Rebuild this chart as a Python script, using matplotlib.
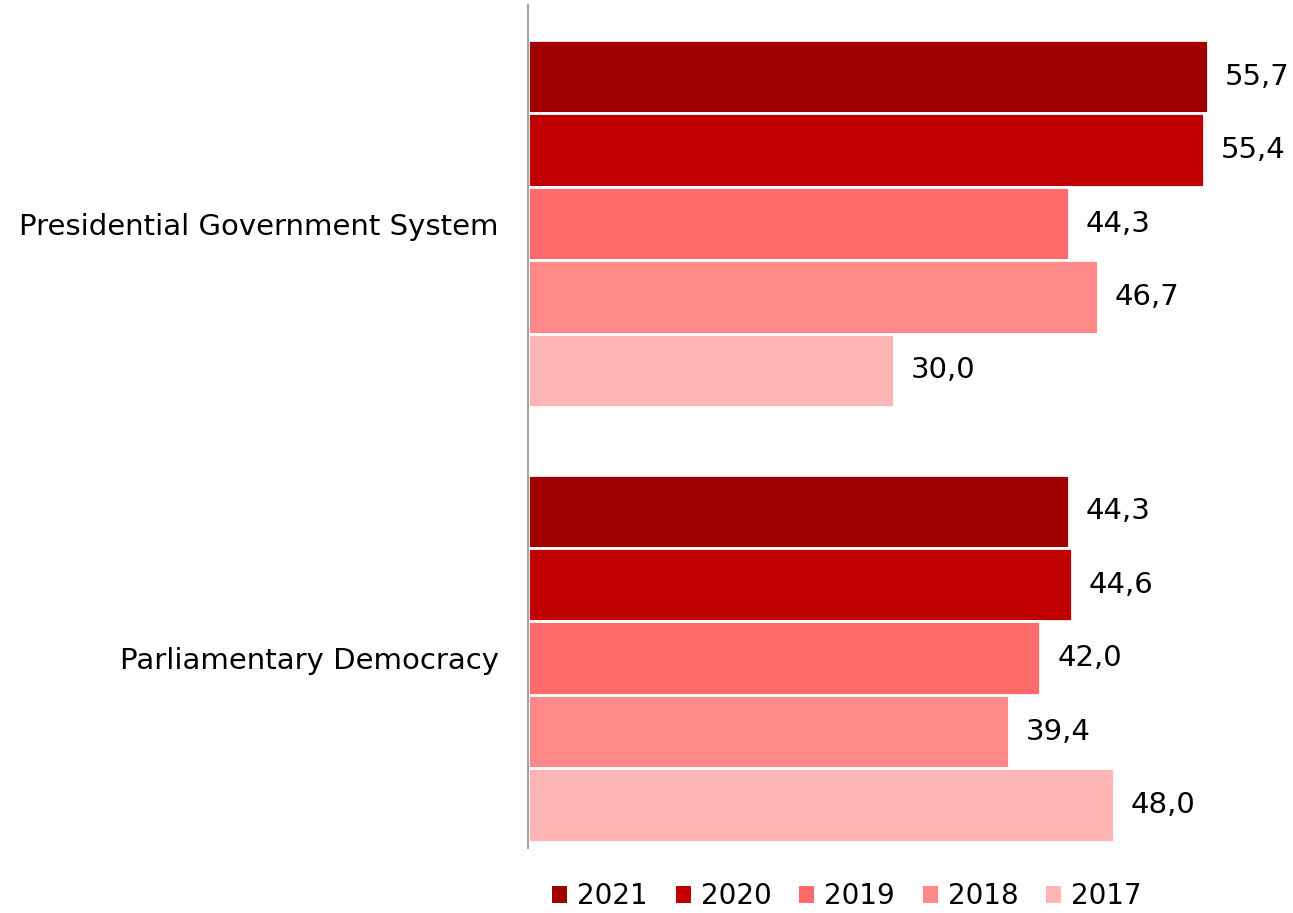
import numpy as np
import matplotlib.pyplot as plt

categories = ["Presidential Government System", "Parliamentary Democracy"]
years = ["2021", "2020", "2019", "2018", "2017"]
values = {
    "2021": [55.7, 44.3],
    "2020": [55.4, 44.6],
    "2019": [44.3, 42.0],
    "2018": [46.7, 39.4],
    "2017": [30.0, 48.0],
}
colors = ["#A00000", "#C00000", "#FF6B6B", "#FF8888", "#FFB5B5"]

fig = plt.figure(figsize=(12.93, 9.13), dpi=100)
ax = fig.add_axes([0.4084, 0.0712, 0.5916, 0.9233])

h = 0.169
y = np.arange(len(categories))
for i, (yr, c) in enumerate(zip(years, colors)):
    pos = y + (i - 2) * h
    bars = ax.barh(pos, values[yr], height=h, color=c, edgecolor="white",
                   linewidth=2, label=yr)
    for b, v in zip(bars, values[yr]):
        ax.annotate(f"{v:.1f}".replace(".", ","),
                    (b.get_width(), b.get_y() + b.get_height() / 2),
                    xytext=(12, 0), textcoords="offset points",
                    va="center", ha="left", fontsize=21)

ax.set_xlim(0, 62.7)
ax.set_ylim(1.437, -0.503)
ax.set_yticks(y)
ax.set_yticklabels(categories, fontsize=21)
ax.tick_params(axis="y", length=0, pad=21)
ax.set_xticks([])
for s in ["top", "right", "bottom"]:
    ax.spines[s].set_visible(False)
ax.spines["left"].set_color("#A6A6A6")
ax.spines["left"].set_linewidth(1.5)

leg = fig.legend(loc="center", bbox_to_anchor=(0.655, 1 - 896 / 913), ncol=5,
                 frameon=False, fontsize=20, handlelength=0.55, handleheight=0.55,
                 handletextpad=0.35, columnspacing=1.0)
for p in leg.get_patches():
    p.set_linewidth(0)

fig.savefig("out.png", dpi=100)
